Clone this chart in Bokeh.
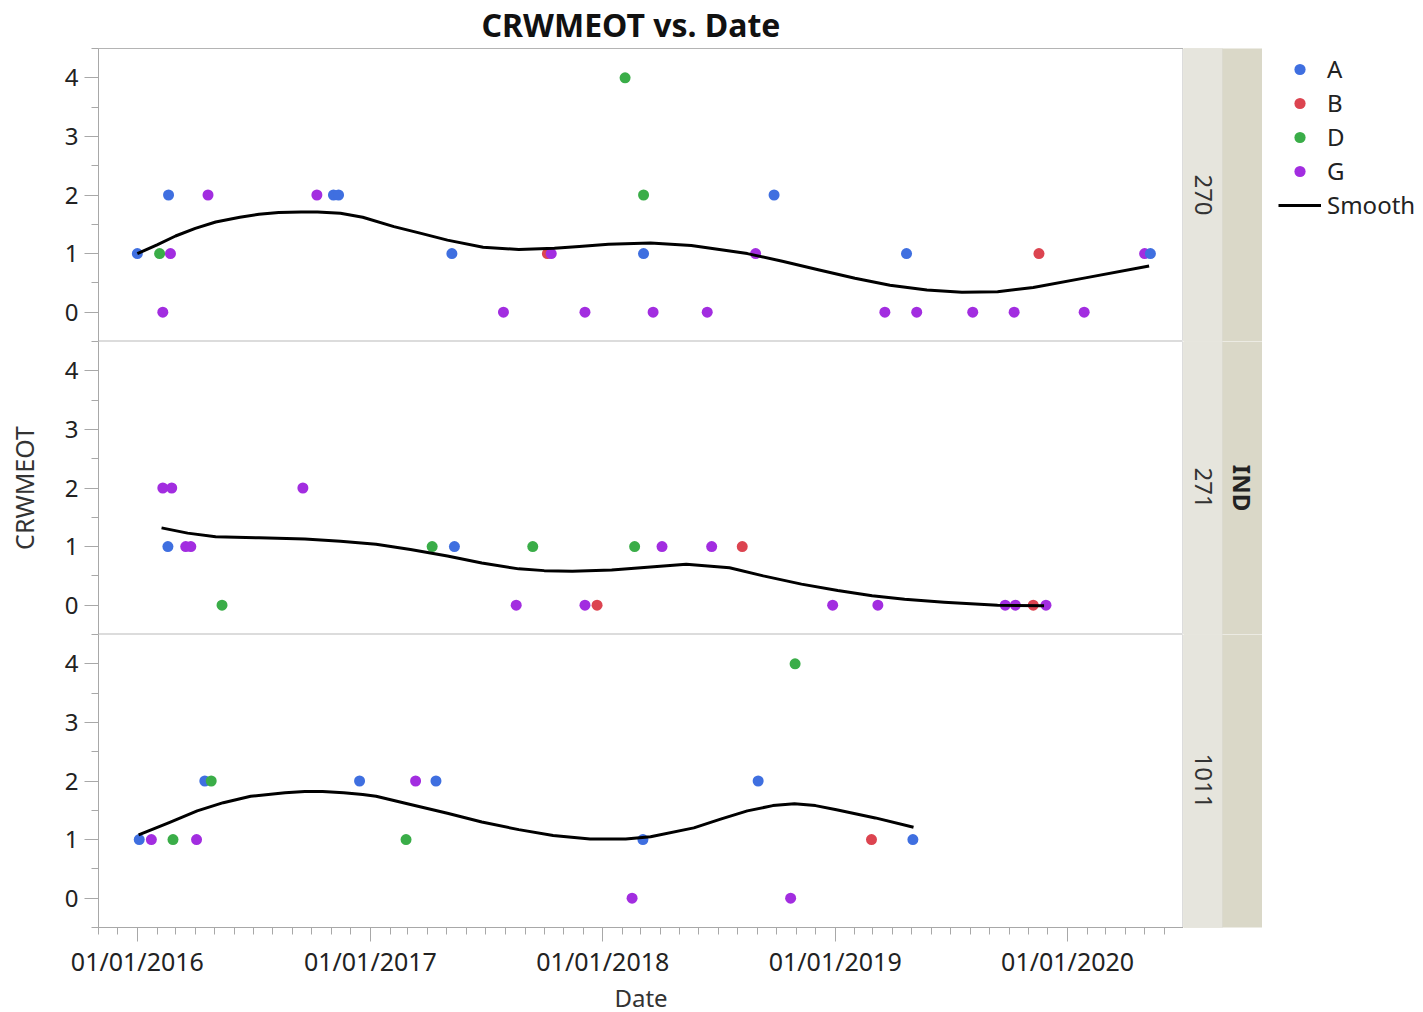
import math
import pandas as pd
from bokeh.plotting import figure
from bokeh.layouts import row, column
from bokeh.models import (ColumnDataSource, FixedTicker, DatetimeTickFormatter, Range1d,
                          Legend, LegendItem, LinearAxis, BoxAnnotation)
from bokeh.transform import factor_cmap
from bokeh.core.properties import value
from bokeh.embed import file_html
from bokeh.resources import INLINE

# ---------------- data ----------------
TITLE = "CRWMEOT vs. Date"
Y_LABEL = "CRWMEOT"
X_LABEL = "Date"
WRAP_LABEL = "IND"
PANELS = ["270", "271", "1011"]
GROUPS = ["A", "B", "D", "G"]
COLORS = ["#3F6FE0", "#DC4450", "#3AAD48", "#A22DE0"]
SMOOTH_LABEL = "Smooth"
X_TICKS = ["2016-01-01", "2017-01-01", "2018-01-01", "2019-01-01", "2020-01-01"]
X_START, X_END = "2015-11-01", "2020-07-01"
Y_TICKS = [0, 1, 2, 3, 4]
Y_MINOR = [-0.5, 0.5, 1.5, 2.5, 3.5, 4.5]

# panel 270
p270_dates = ["2016-01-01", "2016-02-05", "2016-02-10", "2016-02-19", "2016-02-22", "2016-04-21",
              "2016-10-09", "2016-11-04", "2016-11-12", "2017-05-09", "2017-07-29", "2017-10-06",
              "2017-10-12", "2017-12-04", "2018-02-05", "2018-03-06", "2018-03-06", "2018-03-21",
              "2018-06-14", "2018-08-29", "2018-09-27", "2019-03-20", "2019-04-23", "2019-05-09",
              "2019-08-05", "2019-10-09", "2019-11-17", "2020-01-27", "2020-05-01", "2020-05-10"]
p270_vals = [1, 1, 0, 2, 1, 2,
             2, 2, 2, 1, 0, 1,
             1, 0, 4, 2, 1, 0,
             0, 1, 2, 0, 1, 0,
             0, 0, 1, 0, 1, 1]
p270_grps = ["A", "D", "G", "A", "G", "G",
             "G", "A", "A", "A", "G", "B",
             "G", "G", "D", "D", "A", "G",
             "G", "G", "A", "G", "A", "G",
             "G", "G", "B", "G", "G", "A"]

# panel 271
p271_dates = ["2016-02-10", "2016-02-18", "2016-02-24", "2016-03-17", "2016-03-25", "2016-05-13",
              "2016-09-17", "2017-04-08", "2017-05-13", "2017-08-18", "2017-09-13", "2017-12-04",
              "2017-12-23", "2018-02-20", "2018-04-04", "2018-06-21", "2018-08-08", "2018-12-28",
              "2019-03-09", "2019-09-25", "2019-10-11", "2019-11-08", "2019-11-28"]
p271_vals = [2, 1, 2, 1, 1, 0,
             2, 1, 1, 0, 1, 0,
             0, 1, 1, 1, 1, 0,
             0, 0, 0, 0, 0]
p271_grps = ["G", "A", "G", "G", "G", "D",
             "G", "D", "A", "G", "D", "G",
             "B", "D", "G", "G", "B", "G",
             "G", "G", "G", "B", "G"]

# panel 1011
p1011_dates = ["2016-01-04", "2016-01-23", "2016-02-26", "2016-04-03", "2016-04-16", "2016-04-26",
               "2016-12-15", "2017-02-26", "2017-03-13", "2017-04-14", "2018-02-16", "2018-03-05",
               "2018-09-02", "2018-10-23", "2018-10-30", "2019-02-27", "2019-05-03"]
p1011_vals = [1, 1, 1, 1, 2, 2,
              2, 1, 2, 2, 0, 1,
              2, 0, 4, 1, 1]
p1011_grps = ["A", "G", "D", "G", "A", "D",
              "A", "D", "G", "A", "G", "A",
              "A", "G", "D", "B", "A"]

# smoother curves
s270_dates = ["2016-01-01", "2016-02-01", "2016-03-01", "2016-04-01", "2016-05-03", "2016-06-10",
              "2016-07-10", "2016-08-10", "2016-09-14", "2016-10-10", "2016-11-15", "2016-12-20",
              "2017-02-07", "2017-03-20", "2017-05-02", "2017-06-27", "2017-08-22", "2017-10-17",
              "2017-11-25", "2018-01-10", "2018-03-17", "2018-05-20", "2018-08-16", "2018-10-10",
              "2018-12-07", "2019-02-01", "2019-03-28", "2019-05-25", "2019-07-19", "2019-09-13",
              "2019-11-08", "2020-01-31", "2020-05-08"]
s270_vals = [1.00, 1.15, 1.30, 1.43, 1.54, 1.62,
             1.67, 1.70, 1.71, 1.71, 1.69, 1.62,
             1.46, 1.35, 1.23, 1.11, 1.07, 1.09,
             1.12, 1.16, 1.18, 1.14, 1.00, 0.87,
             0.72, 0.58, 0.46, 0.38, 0.34, 0.35,
             0.42, 0.59, 0.79]

s271_dates = ["2016-02-08", "2016-03-20", "2016-05-03", "2016-07-10", "2016-09-20", "2016-11-15",
              "2017-01-10", "2017-03-05", "2017-05-02", "2017-06-25", "2017-08-22", "2017-10-01",
              "2017-11-14", "2018-01-15", "2018-03-17", "2018-05-12", "2018-07-19", "2018-09-10",
              "2018-11-09", "2019-01-05", "2019-02-28", "2019-04-20", "2019-06-21", "2019-09-13",
              "2019-11-25"]
s271_vals = [1.32, 1.23, 1.17, 1.15, 1.13, 1.09,
             1.04, 0.95, 0.84, 0.72, 0.62, 0.59,
             0.58, 0.60, 0.65, 0.70, 0.64, 0.50,
             0.36, 0.25, 0.16, 0.10, 0.05, 0.00,
             -0.01]

s1011_dates = ["2016-01-03", "2016-02-20", "2016-04-04", "2016-05-15", "2016-06-27", "2016-08-20",
               "2016-09-20", "2016-10-18", "2016-11-20", "2016-12-20", "2017-01-10", "2017-03-05",
               "2017-05-02", "2017-06-25", "2017-08-22", "2017-10-15", "2017-12-12", "2018-02-06",
               "2018-03-17", "2018-05-24", "2018-07-05", "2018-08-16", "2018-09-25", "2018-10-29",
               "2018-12-01", "2019-01-03", "2019-03-05", "2019-05-04"]
s1011_vals = [1.08, 1.29, 1.49, 1.63, 1.74, 1.80,
              1.82, 1.82, 1.80, 1.77, 1.74, 1.60,
              1.45, 1.30, 1.17, 1.07, 1.01, 1.01,
              1.05, 1.20, 1.35, 1.49, 1.58, 1.61,
              1.58, 1.51, 1.37, 1.21]

# ---------------- styling / layout ----------------
FONT = "Noto Sans"
LEFT, FW, FH, TOP, BOT = 98, 1085, 293, 48, 80
STRIP_W1, STRIP_W2 = 39, 40
AXIS_GRAY = "#A8A8A8"
STRIP1 = "#E6E5DD"
STRIP2 = "#DAD8C8"


def ms(s):
    return pd.Timestamp(s).value / 1e6


x_range = Range1d(start=ms(X_START), end=ms(X_END))
year_ticks = [ms(s) for s in X_TICKS]
month_ticks = [t.value / 1e6 for t in pd.date_range(X_START, X_END, freq="MS")]

panel_data = [
    (p270_dates, p270_vals, p270_grps, s270_dates, s270_vals),
    (p271_dates, p271_vals, p271_grps, s271_dates, s271_vals),
    (p1011_dates, p1011_vals, p1011_grps, s1011_dates, s1011_vals),
]


def bare(fig):
    for g in fig.grid:
        g.visible = False


def make_panel(i, dates, vals, grps, sdates, svals):
    top = TOP if i == 0 else 0
    bot = BOT if i == 2 else 0
    p = figure(frame_width=FW, frame_height=FH, min_border_left=LEFT, min_border_right=0,
               min_border_top=top, min_border_bottom=bot,
               x_range=x_range, y_range=Range1d(-0.5, 4.5),
               x_axis_type="datetime", x_axis_location="below" if i == 2 else None,
               toolbar_location=None, output_backend="svg",
               outline_line_color="#DCDCDC", background_fill_color="white",
               border_fill_color="white", align="start")
    bare(p)

    ya = p.yaxis[0]
    ya.ticker = FixedTicker(ticks=Y_TICKS, minor_ticks=Y_MINOR)
    ya.axis_line_color = AXIS_GRAY
    ya.major_tick_line_color = AXIS_GRAY
    ya.minor_tick_line_color = AXIS_GRAY
    ya.major_tick_out = 14
    ya.major_tick_in = 0
    ya.minor_tick_out = 7
    ya.minor_tick_in = 0
    ya.major_label_standoff = 6
    ya.major_label_text_font = FONT
    ya.major_label_text_font_size = "24px"
    ya.major_label_text_color = "#222222"
    if i == 1:
        ya.axis_label = Y_LABEL
        ya.axis_label_text_font = FONT
        ya.axis_label_text_font_size = "25px"
        ya.axis_label_text_font_style = "normal"
        ya.axis_label_text_color = "#333333"
        ya.axis_label_standoff = 21

    if i == 0:
        p.title.text = TITLE
        p.title.align = "left"
        p.title.offset = 383
        p.title.vertical_align = "top"
        p.title.text_font = FONT
        p.title.text_font_size = "32px"
        p.title.text_font_style = "bold"
        p.title.text_color = "#111111"
        p.title.standoff = 2
        top_axis = LinearAxis(ticker=FixedTicker(ticks=[]), major_label_text_font_size="0px",
                              axis_line_color="#B4B4B4", major_tick_line_color=None,
                              minor_tick_line_color=None, major_label_standoff=0)
        p.add_layout(top_axis, "above")

    if i == 2:
        xa = p.xaxis[0]
        xa.ticker = FixedTicker(ticks=year_ticks, minor_ticks=month_ticks)
        fmt = "%m/%d/%Y"
        xa.formatter = DatetimeTickFormatter(years=fmt, months=fmt, days=fmt, hours=fmt,
                                             minutes=fmt, seconds=fmt, milliseconds=fmt,
                                             microseconds=fmt)
        xa.axis_line_color = AXIS_GRAY
        xa.major_tick_line_color = AXIS_GRAY
        xa.minor_tick_line_color = AXIS_GRAY
        xa.major_tick_out = 14
        xa.major_tick_in = 0
        xa.minor_tick_out = 7
        xa.minor_tick_in = 0
        xa.major_label_standoff = 2
        xa.major_label_text_font = FONT
        xa.major_label_text_font_size = "25px"
        xa.major_label_text_color = "#222222"
        xa.axis_label = X_LABEL
        xa.axis_label_text_font = FONT
        xa.axis_label_text_font_size = "24px"
        xa.axis_label_text_font_style = "normal"
        xa.axis_label_text_color = "#333333"
        xa.axis_label_standoff = 0

    src = ColumnDataSource(dict(date=pd.to_datetime(dates), val=vals, grp=grps))
    p.scatter("date", "val", source=src, size=11, line_color=None,
              fill_color=factor_cmap("grp", COLORS, GROUPS))
    p.line(pd.to_datetime(sdates), svals, line_color="black", line_width=3, line_join="round")
    return p


def make_strip(i, label):
    top = TOP if i == 0 else 0
    bot = BOT if i == 2 else 0
    s = figure(frame_width=STRIP_W1 + STRIP_W2, frame_height=FH, min_border_left=0,
               min_border_right=0, min_border_top=top, min_border_bottom=bot,
               x_range=Range1d(0, STRIP_W1 + STRIP_W2), y_range=Range1d(-1, 1),
               x_axis_location=None, y_axis_location=None,
               toolbar_location=None, output_backend="svg",
               background_fill_color=STRIP2, border_fill_color="white",
               outline_line_color=None, align="start")
    bare(s)
    s.add_layout(BoxAnnotation(left=0, right=STRIP_W1, fill_color=STRIP1, fill_alpha=1.0,
                               line_color="#D2D1C6", line_width=1, level="underlay"))
    s.text(x=[STRIP_W1 / 2], y=[0], text=[label], angle=-math.pi / 2, text_align="center",
           text_baseline="middle", text_font=value(FONT), text_font_size="24px",
           text_color="#333333")
    if i == 1:
        s.text(x=[STRIP_W1 + STRIP_W2 / 2], y=[0], text=[WRAP_LABEL], angle=-math.pi / 2,
               text_align="center", text_baseline="middle", text_font=value(FONT),
               text_font_size="24px", text_font_style="bold", text_color="#222222")
    return s


panels = [make_panel(i, *d) for i, d in enumerate(panel_data)]
strips = [make_strip(i, lbl) for i, lbl in enumerate(PANELS)]

lg = figure(frame_width=140, frame_height=FH, min_border_left=16, min_border_right=0,
            min_border_top=52, min_border_bottom=0,
            x_range=Range1d(0, 1), y_range=Range1d(0, 1),
            x_axis_location=None, y_axis_location=None,
            toolbar_location=None, output_backend="svg", outline_line_color=None,
            align="start")
bare(lg)
nan = float("nan")
items = []
for g, c in zip(GROUPS, COLORS):
    r = lg.scatter(x=[nan], y=[nan], size=11, fill_color=c, line_color=None)
    items.append(LegendItem(label=g, renderers=[r]))
rl = lg.line(x=[nan, nan], y=[nan, nan], line_color="black", line_width=3)
items.append(LegendItem(label=SMOOTH_LABEL, renderers=[rl]))
leg = Legend(items=items, location="top_left", margin=0, padding=6, spacing=1,
             glyph_width=43, glyph_height=28, label_height=28, label_standoff=6,
             label_text_font=FONT, label_text_font_size="24px", label_text_color="#222222",
             border_line_color=None, background_fill_alpha=0)
lg.add_layout(leg)

layout = row(column(*panels, align="start"), column(*strips, align="start"), lg)

open("out.html", "w").write(file_html(layout, INLINE))
